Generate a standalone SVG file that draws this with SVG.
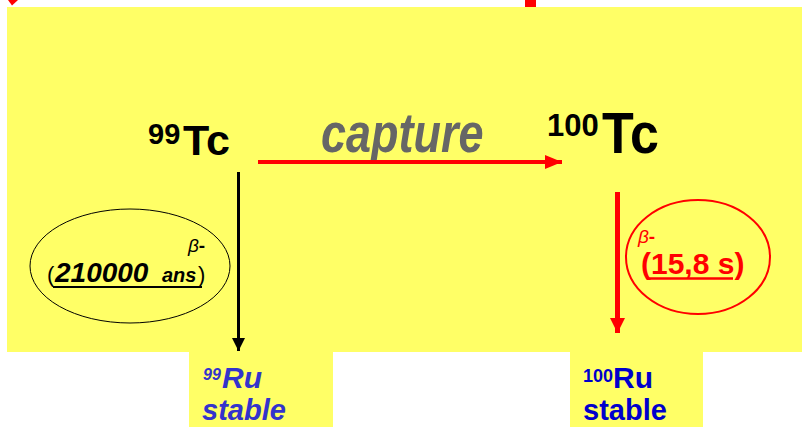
<svg xmlns="http://www.w3.org/2000/svg" width="802" height="427" viewBox="0 0 802 427">
<style>
.bg{fill:#FFFF66}
.t{font-family:"Liberation Sans",Arial,sans-serif}
.b{font-weight:bold}
.i{font-style:italic}
</style>
<defs>
<marker id="ahRed" markerUnits="userSpaceOnUse" markerWidth="18" markerHeight="14" refX="17" refY="7" orient="auto"><path d="M0,0 L17,7 L0,14 z" fill="#FF0000"/></marker>
<marker id="ahRedV" markerUnits="userSpaceOnUse" markerWidth="16" markerHeight="16" refX="15" refY="8" orient="auto"><path d="M0,0.5 L15,8 L0,15.5 z" fill="#FF0000"/></marker>
<marker id="ahBlack" markerUnits="userSpaceOnUse" markerWidth="14" markerHeight="14" refX="13" refY="6.5" orient="auto"><path d="M0,0 L13,6.5 L0,13 z" fill="#000"/></marker>
</defs>
<rect width="802" height="427" fill="#fff"/>
<path d="M8,0 L18,0 L12,5.5 z" fill="#FF0000"/>
<rect x="525" y="0" width="11" height="8" fill="#FF0000"/>
<rect class="bg" x="7" y="7" width="795" height="345"/>
<rect class="bg" x="189" y="351" width="144" height="76"/>
<rect class="bg" x="570" y="351" width="133" height="76"/>

<g id="tc99">
<text class="t b" x="148" y="144" font-size="29">99</text>
<text class="t b" x="183" y="155" font-size="43">Tc</text>
</g>
<g id="tc100">
<text class="t b" x="547" y="136" font-size="31">100</text>
<text class="t b" transform="translate(602,153) scale(1,1.1)" font-size="52">Tc</text>
</g>
<g id="capture-label">
<text class="t b i" transform="translate(321,152) scale(1,1.22)" font-size="45" fill="#666666">capture</text>
</g>

<g id="connectors">
<line x1="258" y1="162" x2="562" y2="162" stroke="#FF0000" stroke-width="4" marker-end="url(#ahRed)"/>
<line x1="238.5" y1="172" x2="238.5" y2="351" stroke="#000" stroke-width="3" marker-end="url(#ahBlack)"/>
<line x1="617.5" y1="192" x2="617.5" y2="333" stroke="#FF0000" stroke-width="5" marker-end="url(#ahRedV)"/>
</g>

<g id="decay-left">
<ellipse cx="130" cy="266" rx="100" ry="57" fill="none" stroke="#000" stroke-width="1"/>
<text class="t" x="188" y="252" font-size="19"><tspan class="i">β</tspan><tspan class="b">-</tspan></text>
<text class="t" x="47" y="282" font-size="22">(</text>
<text class="t b i" x="55" y="282" font-size="28">210000</text>
<text class="t b i" x="162" y="282" font-size="20">ans</text>
<text class="t" x="198" y="282" font-size="22">)</text>
<line x1="53" y1="287" x2="202" y2="287" stroke="#000" stroke-width="2"/>
</g>

<g id="decay-right">
<ellipse cx="698" cy="257" rx="72" ry="57" fill="none" stroke="#FF0000" stroke-width="2"/>
<text class="t" x="638" y="243" font-size="19" fill="#FF0000"><tspan class="i">β</tspan><tspan class="b">-</tspan></text>
<text class="t b" x="641" y="274" font-size="30" fill="#FF0000">(15,8 s)</text>
<line x1="647" y1="278.5" x2="733" y2="278.5" stroke="#FF0000" stroke-width="2.5"/>
</g>

<g id="ru99">
<text class="t b i" x="203" y="380" font-size="16" fill="#3333CC">99</text>
<text class="t b i" x="222" y="388" font-size="30" fill="#3333CC">Ru</text>
<text class="t b i" x="202" y="420" font-size="29" fill="#3333CC">stable</text>
</g>
<g id="ru100">
<text class="t b" x="583" y="382" font-size="18" fill="#0000CC">100</text>
<text class="t b" x="613" y="388" font-size="30" fill="#0000CC">Ru</text>
<text class="t b" x="583" y="420" font-size="29" fill="#0000CC">stable</text>
</g>
</svg>
